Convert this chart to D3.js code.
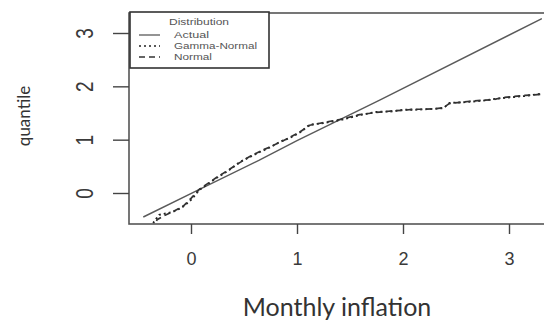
<!DOCTYPE html>
<html lang="en">
<head>
<meta charset="UTF-8" />
<title>Monthly inflation quantiles</title>
<script src="https://d3js.org/d3.v7.min.js"></script>
<style>
    body, html { margin: 0; padding: 0; background: #fff; }
    svg { display: block; }
    .tick-label { font-family: "Liberation Sans", Arial, sans-serif; fill: #3a3a3a; }
    .axis-title { font-family: Lato, "Open Sans", sans-serif; fill: #333; }
    .legend text { font-family: "Liberation Sans", Arial, sans-serif; font-size: 9px; fill: #555; }
</style>
</head>
<body>
<div id="chart"></div>
<script>
// ---- data ----
const xTicks = [0, 1, 2, 3];
const yTicks = [0, 1, 2, 3];

const actualX = [-0.45, 0.08, 0.64, 1.0, 1.78, 3.31];
const actualY = [-0.45, 0.07, 0.61, 0.98, 1.74, 3.27];

const gammaX = [-0.38, -0.35, -0.30, -0.18, -0.09, 0.0, 0.08, 0.16, 0.24, 0.36, 0.46, 0.55, 0.65, 0.75,
                0.84, 0.94, 1.03, 1.12, 1.25, 1.41, 1.59, 1.75, 1.90, 2.00, 2.10, 2.20, 2.30, 2.38, 2.44,
                2.55, 2.63, 2.75, 2.85, 2.94, 3.05, 3.15, 3.31];
const gammaY = [-0.75, -0.54, -0.41, -0.36, -0.28, -0.13, 0.06, 0.17, 0.28, 0.43, 0.58, 0.67, 0.77, 0.86,
                0.96, 1.04, 1.14, 1.28, 1.31, 1.37, 1.46, 1.52, 1.53, 1.56, 1.56, 1.57, 1.58, 1.59, 1.69,
                1.70, 1.71, 1.73, 1.76, 1.78, 1.80, 1.82, 1.86];

const normalX = [-0.36, -0.32, -0.25, -0.15, -0.07, 0.0, 0.08, 0.16, 0.24, 0.36, 0.46, 0.55, 0.65, 0.75,
                 0.84, 0.94, 1.03, 1.12, 1.25, 1.41, 1.59, 1.75, 1.90, 2.00, 2.10, 2.20, 2.30, 2.38, 2.44,
                 2.55, 2.63, 2.75, 2.85, 2.94, 3.05, 3.15, 3.31];
const normalY = [-0.70, -0.50, -0.42, -0.33, -0.24, -0.10, 0.07, 0.18, 0.29, 0.44, 0.57, 0.68, 0.78, 0.87,
                 0.95, 1.05, 1.15, 1.27, 1.32, 1.38, 1.47, 1.51, 1.54, 1.55, 1.57, 1.57, 1.58, 1.60, 1.68,
                 1.70, 1.72, 1.74, 1.75, 1.79, 1.81, 1.83, 1.85];

const legendLabels = ["Actual", "Gamma-Normal", "Normal"];
const legendTitle = "Distribution";

// ---- layout ----
const width = 544, height = 322;
const box = { left: 129, top: 13, right: 580, bottom: 224 };

const svg = d3.select("#chart").append("svg")
    .attr("width", width)
    .attr("height", height);

const x = d3.scaleLinear().domain([0, 3]).range([191, 509]);
const y = d3.scaleLinear().domain([0, 3]).range([193, 33]);

svg.append("clipPath").attr("id", "plot-clip")
    .append("rect")
    .attr("x", box.left).attr("y", box.top)
    .attr("width", box.right - box.left).attr("height", box.bottom - box.top);

const line = d3.line().x(d => x(d[0])).y(d => y(d[1]));
const plot = svg.append("g").attr("clip-path", "url(#plot-clip)");

const series = [
    { xs: actualX, ys: actualY, dash: null, color: "#5a5a5a", w: 1.4 },
    { xs: gammaX, ys: gammaY, dash: "2,3", color: "#222", w: 1.9 },
    { xs: normalX, ys: normalY, dash: "6,4", color: "#333", w: 1.7 }
];

series.forEach(s => {
    plot.append("path")
        .datum(d3.zip(s.xs, s.ys))
        .attr("d", line)
        .attr("fill", "none")
        .attr("stroke", s.color)
        .attr("stroke-width", s.w)
        .attr("stroke-dasharray", s.dash);
});

// box (right side runs off the picture)
svg.append("rect")
    .attr("x", box.left).attr("y", box.top)
    .attr("width", box.right - box.left).attr("height", box.bottom - box.top)
    .attr("fill", "none")
    .attr("stroke", "#555")
    .attr("stroke-width", 1.6);

// x axis ticks
const xAxis = svg.append("g").attr("transform", `translate(0,${box.bottom})`)
    .call(d3.axisBottom(x).tickValues(xTicks).tickSize(10).tickFormat(d3.format("d")));
xAxis.select(".domain").remove();
xAxis.selectAll("line").attr("stroke", "#444").attr("stroke-width", 1.4);
xAxis.selectAll("text")
    .attr("class", "tick-label")
    .attr("fill", null)
    .style("font-size", "18px")
    .attr("y", 41).attr("dy", 0);

// y axis ticks
const yAxis = svg.append("g").attr("transform", `translate(${box.left},0)`)
    .call(d3.axisLeft(y).tickValues(yTicks).tickSize(16).tickFormat(d3.format("d")));
yAxis.select(".domain").remove();
yAxis.selectAll("line").attr("stroke", "#444").attr("stroke-width", 1.4);
yAxis.selectAll("text")
    .attr("class", "tick-label")
    .attr("fill", null)
    .style("font-size", "19px")
    .attr("x", 0).attr("dy", 0)
    .attr("text-anchor", "middle")
    .attr("transform", "translate(-36,0) rotate(-90) scale(1,1.25)");

// axis titles
svg.append("text")
    .attr("class", "axis-title")
    .attr("x", 337).attr("y", 316)
    .attr("text-anchor", "middle")
    .style("font-size", "25px")
    .text("Monthly inflation");

svg.append("text")
    .attr("class", "axis-title")
    .attr("transform", "translate(30,116) rotate(-90)")
    .attr("text-anchor", "middle")
    .style("font-size", "17px")
    .text("quantile");

// legend
const legend = svg.append("g").attr("class", "legend");
legend.append("rect")
    .attr("x", 130).attr("y", 12)
    .attr("width", 139).attr("height", 56)
    .attr("fill", "#fff")
    .attr("stroke", "#333")
    .attr("stroke-width", 1.6);
legend.append("text")
    .attr("x", 199).attr("y", 25)
    .attr("text-anchor", "middle")
    .attr("textLength", 60)
    .attr("lengthAdjust", "spacingAndGlyphs")
    .text(legendTitle);

const rowY = [35, 46, 57];
const rowLen = [35, 83, 38];
legendLabels.forEach((lab, i) => {
    legend.append("line")
        .attr("x1", 139).attr("x2", 160)
        .attr("y1", rowY[i]).attr("y2", rowY[i])
        .attr("stroke", series[i].color)
        .attr("stroke-width", 1.3)
        .attr("stroke-dasharray", series[i].dash);
    legend.append("text")
        .attr("x", 174).attr("y", rowY[i] + 3)
        .attr("textLength", rowLen[i])
        .attr("lengthAdjust", "spacingAndGlyphs")
        .text(lab);
});
</script>
</body>
</html>
